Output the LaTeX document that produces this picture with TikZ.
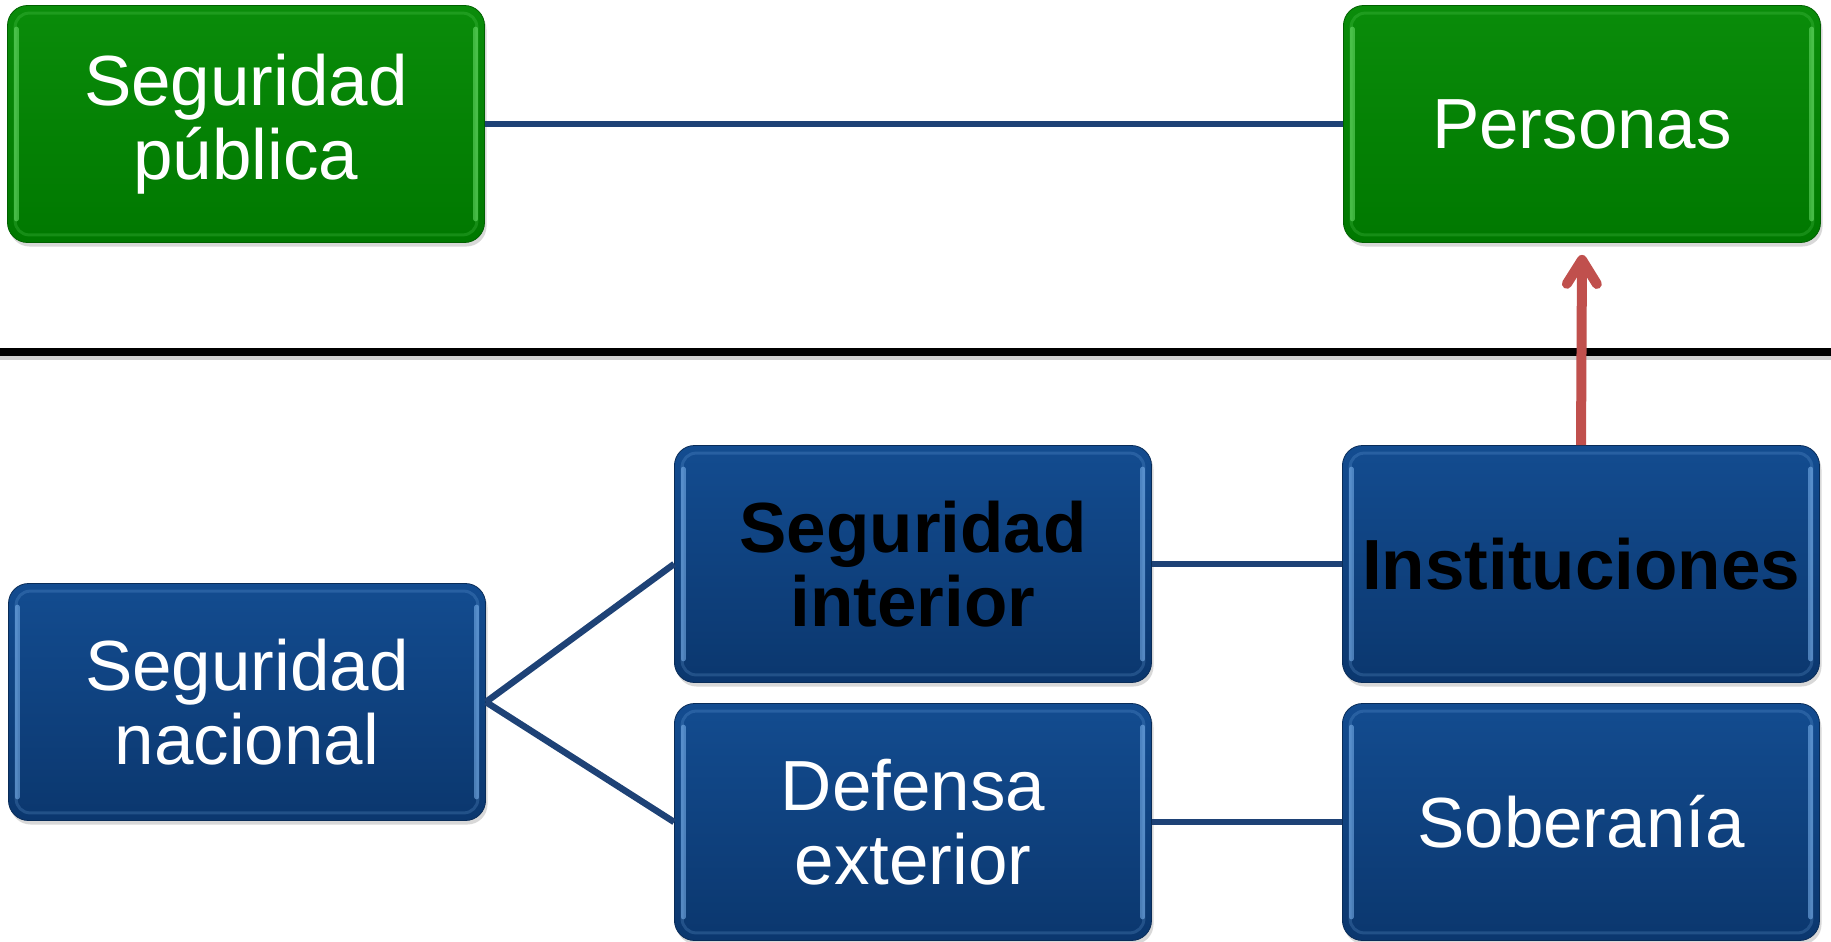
\documentclass[tikz,border=0pt]{standalone}
\usepackage{fontspec}
\setmainfont{Liberation Sans}
\usetikzlibrary{arrows.meta,shadows,calc}
\definecolor{gtop}{HTML}{0A8C0A}
\definecolor{gbot}{HTML}{007800}
\definecolor{glight}{HTML}{6EE06E}
\definecolor{btop}{HTML}{134C90}
\definecolor{bbot}{HTML}{0B376E}
\definecolor{blight}{HTML}{7FB6F0}
\definecolor{conn}{HTML}{1E4276}
\definecolor{arr}{HTML}{C0504D}
\tikzset{
  basebox/.style={rounded corners=20pt, minimum width=477pt, minimum height=237pt,
    inner sep=0pt, align=center, font=\fontsize{71}{74}\selectfont,
    drop shadow={opacity=0.3, shadow xshift=2pt, shadow yshift=-4pt}},
  gbox/.style={basebox, top color=gtop, bottom color=gbot, draw=gbot!80!black, line width=0.8pt, text=white},
  bbox/.style={basebox, top color=btop, bottom color=bbot, draw=bbot!80!black, line width=0.8pt, text=white},
  bboxk/.style={bbox, text=black, font=\fontsize{71}{74}\selectfont\bfseries},
  connector/.style={draw=conn, line width=6.5pt},
  redarrow/.style={draw=arr, line width=10pt, -{Straight Barb[length=24pt,width=30pt,line cap=round,round]}},
}
\newcommand{\bevelbox}[2]{%
  \draw[#2, line width=3pt, opacity=0.2, rounded corners=14pt]
    ($(#1.north west)+(8pt,-8pt)$) rectangle ($(#1.south east)+(-8pt,8pt)$);
  \draw[#2, line width=5pt, opacity=0.55, line cap=round]
    ($(#1.north west)+(9pt,-24pt)$) -- ($(#1.south west)+(9pt,24pt)$);
  \draw[#2, line width=5pt, opacity=0.55, line cap=round]
    ($(#1.north east)+(-9pt,-24pt)$) -- ($(#1.south east)+(-9pt,24pt)$);}
\begin{document}
\begin{tikzpicture}[x=1pt,y=-1pt]
\useasboundingbox[fill=white] (0,0) rectangle (1831,942);
% separator
\draw[line width=9pt, black!30, opacity=0.6] (0,355) -- (1831,355);
\draw[line width=8pt, black] (0,352) -- (1831,352);
% nodes
\node[gbox] (sp) at (246,124) {Seguridad\\pública};
\node[gbox] (pe) at (1582,124) {Personas};
\node[bbox] (sn) at (247,702) {Seguridad\\nacional};
\node[bboxk] (si) at (913,564) {Seguridad\\interior};
\node[bbox] (de) at (913,822) {Defensa\\exterior};
\node[bboxk] (in) at (1581,564) {Instituciones};
\node[bbox] (so) at (1581,822) {Soberanía};
\bevelbox{sp}{glight}
\bevelbox{pe}{glight}
\bevelbox{sn}{blight}
\bevelbox{si}{blight}
\bevelbox{de}{blight}
\bevelbox{in}{blight}
\bevelbox{so}{blight}
% connectors
\draw[connector] (sp.east) -- (pe.west);
\draw[connector] (sn.east) -- (si.west);
\draw[connector] (sn.east) -- (de.west);
\draw[connector] (si.east) -- (in.west);
\draw[connector] (de.east) -- (so.west);
\draw[redarrow] (in.north) -- ([yshift=-12pt]pe.south);
\end{tikzpicture}
\end{document}
